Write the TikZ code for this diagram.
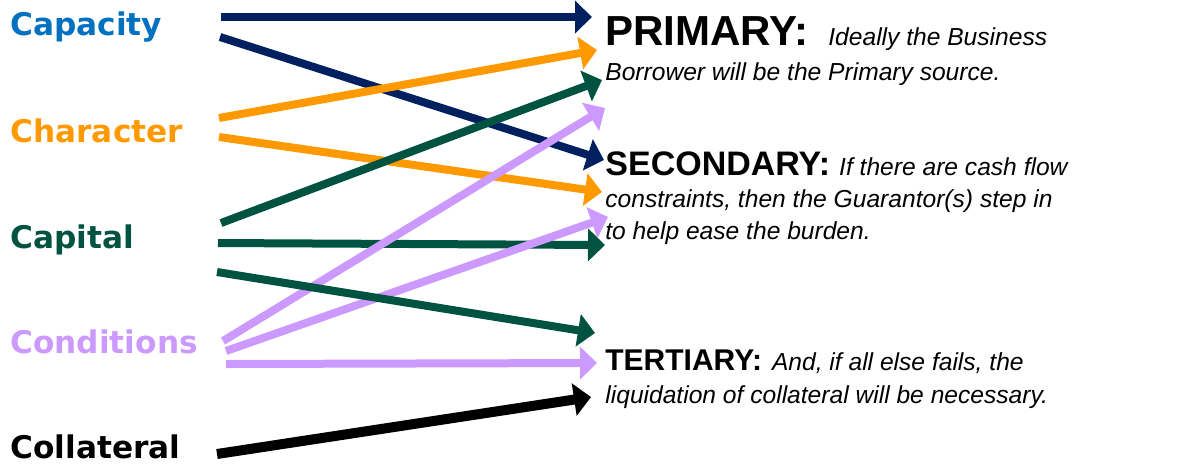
\documentclass[tikz,border=0pt]{standalone}
\usepackage{fontspec}
\setmainfont{Liberation Sans}
\newfontfamily\labelfont{DejaVu Sans}
\usetikzlibrary{arrows.meta}
\definecolor{capblue}{HTML}{0070C0}
\definecolor{navy}{HTML}{002060}
\definecolor{chorange}{HTML}{FF9900}
\definecolor{cpgreen}{HTML}{005241}
\definecolor{cndpurple}{HTML}{CC99FF}

\begin{document}
\begin{tikzpicture}[x=0.5pt,y=-0.5pt,
    lbl/.style={anchor=base west,inner sep=0pt,
                font=\labelfont\bfseries\fontsize{15.6}{18}\selectfont},
    txt/.style={anchor=base west,inner sep=0pt,align=left,
                font=\fontsize{12.3}{#1}\selectfont\itshape},
    arr/.style={-{Triangle[length=8.5pt,width=16pt]},line width=4pt}
  ]
    \useasboundingbox (0,0) rectangle (1201,463);

    % the five C's
    \node[lbl,text=capblue]   (capacity)   at (10,35)  {Capacity};
    \node[lbl,text=chorange]  (character)  at (10,142) {Character};
    \node[lbl,text=cpgreen]   (capital)    at (10,248) {Capital};
    \node[lbl,text=cndpurple] (conditions) at (10,353) {Conditions};
    \node[lbl,text=black]     (collateral) at (10,458) {Collateral};

    % sources of repayment (placed by the baseline of their last line)
    \node[txt=17.5pt] (primary) at (605,80)
      {{\upshape\bfseries\fontsize{21}{22}\selectfont PRIMARY:}\hspace{10pt}Ideally the Business\\
       Borrower will be the Primary source.};
    \node[txt=16pt] (secondary) at (605,239)
      {{\upshape\bfseries\fontsize{17}{18}\selectfont SECONDARY:}\hspace{4.5pt}If there are cash flow\\
       constraints, then the Guarantor(s) step in\\
       to help ease the burden.};
    \node[txt=16.5pt] (tertiary) at (605,403)
      {{\upshape\bfseries\fontsize{15}{16}\selectfont TERTIARY:}\hspace{5pt}And, if all else fails, the\\
       liquidation of collateral will be necessary.};

    % arrow tails beside the labels
    \coordinate (capA) at (221,17);
    \coordinate (capB) at (220,37);
    \coordinate (chrA) at (219,118);
    \coordinate (chrB) at (219,137);
    \coordinate (cptA) at (221,223);
    \coordinate (cptB) at (218,243);
    \coordinate (cptC) at (217,272);
    \coordinate (cndA) at (223,341);
    \coordinate (cndB) at (226,351);
    \coordinate (cndC) at (226,364);
    \coordinate (colA) at (217,454);

    % arrow tips in front of the texts
    \coordinate (priA) at (592,17);
    \coordinate (priB) at (597,50);
    \coordinate (priC) at (602,80);
    \coordinate (priD) at (605,108);
    \coordinate (secA) at (604,160);
    \coordinate (secB) at (602,192);
    \coordinate (secC) at (608,217);
    \coordinate (secD) at (605,245);
    \coordinate (terA) at (595,333);
    \coordinate (terB) at (597,363);
    \coordinate (terC) at (591,397);

    \draw[arr,navy] (capA) -- (priA);
    \draw[arr,navy] (capB) -- (secA);
    \draw[arr,chorange] (chrA) -- (priB);
    \draw[arr,chorange] (chrB) -- (secB);
    \draw[arr,cpgreen] (cptA) -- (priC);
    \draw[arr,cpgreen] (cptB) -- (secD);
    \draw[arr,cndpurple] (cndA) -- (priD);
    \draw[arr,cndpurple] (cndB) -- (secC);
    \draw[arr,cpgreen] (cptC) -- (terA);
    \draw[arr,cndpurple] (cndC) -- (terB);
    \draw[arr,black,line width=5pt] (colA) -- (terC);
  \end{tikzpicture}
\end{document}
